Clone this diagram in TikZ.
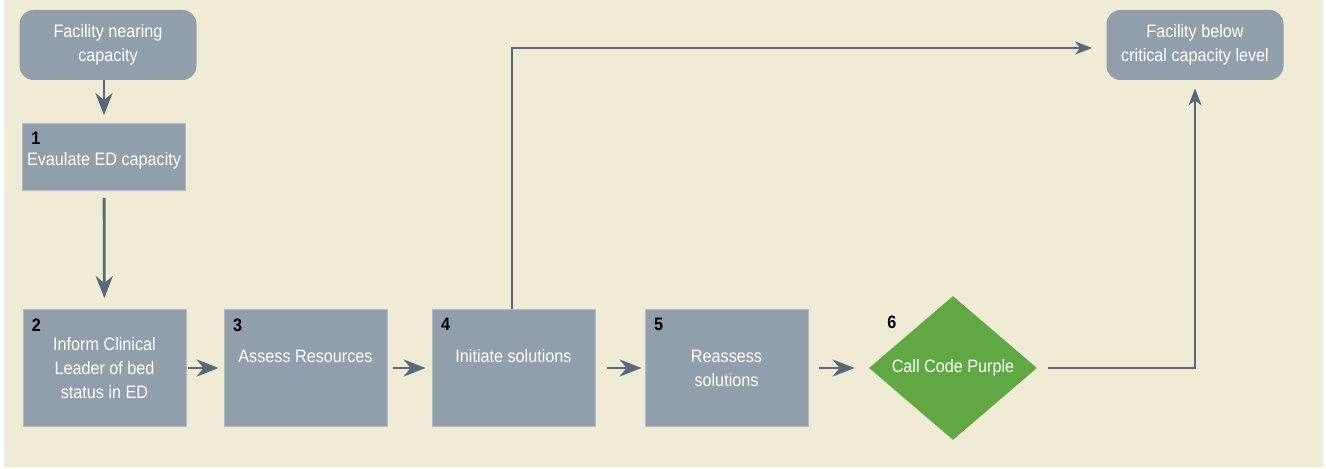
\documentclass[tikz,border=0pt]{standalone}
\usepackage{fontspec}
\setmainfont{Liberation Sans}[FakeStretch=0.9]
\usetikzlibrary{shapes.geometric,arrows.meta,positioning}

\definecolor{bgcream}{HTML}{EFEBD4}
\definecolor{boxgray}{HTML}{919FAC}
\definecolor{arrowgray}{HTML}{56687A}
\definecolor{codegreen}{HTML}{5FA842}

\tikzset{
  box/.style={fill=boxgray, draw=boxgray!70!white, line width=0.4pt, minimum width=81.5pt,
    minimum height=58.5pt, inner sep=1pt, text=white, align=center,
    font=\fontsize{9}{12}\selectfont},
  terminal/.style={box, rounded corners=7pt, draw=none, minimum width=88.5pt, minimum height=35pt},
  decide/.style={diamond, fill=codegreen, inner sep=0pt, minimum width=84pt, minimum height=72pt,
    text=white, font=\fontsize{9}{12}\selectfont},
  num/.style={anchor=north west, inner sep=0pt, text=black, font=\fontsize{9}{11}\selectfont\bfseries},
  flow/.style={arrowgray, line width=1.4pt, -{Stealth[length=11pt, width=8.5pt, inset=3.5pt]}},
  link/.style={arrowgray, line width=1pt, -{Stealth[length=8.5pt, width=6.5pt, inset=2.5pt]}}
}

\begin{document}
\begin{tikzpicture}[x=0.5pt, y=-0.5pt]
  \useasboundingbox (0,0) rectangle (1326,469);
  \fill[white] (0,0) rectangle (1326,469);
  \fill[bgcream] (4,0) rectangle (1323,467);

  % terminal nodes
  \node[terminal] (start) at (108,45) {Facility nearing\\capacity};
  \node[terminal] (fin) at (1195,45) {Facility below\\critical capacity level};

  % steps
  \node[box, minimum height=33.5pt] (s1) at (104,157) {\\[-2pt]Evaulate ED capacity};
  \node[box] (s2) at (104.5,368) {Inform Clinical\\Leader of bed\\status in ED};
  \node[box] (s3) at (305.5,368) {Assess Resources\\\mbox{}};
  \node[box] (s4) at (513.5,368) {Initiate solutions\\\mbox{}};
  \node[box] (s5) at (726.5,368) {Reassess\\solutions};
  \node[decide] (d6) at (953,368) {Call Code Purple};

  % step numbers
  \node[num] (n1) at ([shift={(4.5pt,-4.5pt)}]s1.north west) {1};
  \node[num] (n2) at ([shift={(4.5pt,-4.5pt)}]s2.north west) {2};
  \node[num] (n3) at ([shift={(4.5pt,-4.5pt)}]s3.north west) {3};
  \node[num] (n4) at ([shift={(4.5pt,-4.5pt)}]s4.north west) {4};
  \node[num] (n5) at ([shift={(4.5pt,-4.5pt)}]s5.north west) {5};
  \node[num] (n6) at ([shift={(-33pt,26pt)}]d6.center) {6};

  % connectors
  \draw[flow, shorten >=4pt] (start.south -| s1.north) -- (s1.north);
  \draw[flow, shorten <=3.5pt, shorten >=5.5pt] (s1) -- (s2);
  \draw[flow, shorten <=1pt, shorten >=2.5pt] (s2) -- (s3);
  \draw[flow, shorten <=3pt, shorten >=3pt] (s3) -- (s4);
  \draw[flow, shorten <=6pt, shorten >=1.5pt] (s4) -- (s5);
  \draw[flow, shorten <=5.5pt, shorten >=7pt] (s5) -- (d6);
  \draw[link, shorten >=7pt] ([xshift=-1pt]s4.north) |- ([yshift=-1.5pt]fin.west);
  \draw[link, shorten <=5.5pt, shorten >=4pt] (d6.east) -| (fin.south);
\end{tikzpicture}
\end{document}
